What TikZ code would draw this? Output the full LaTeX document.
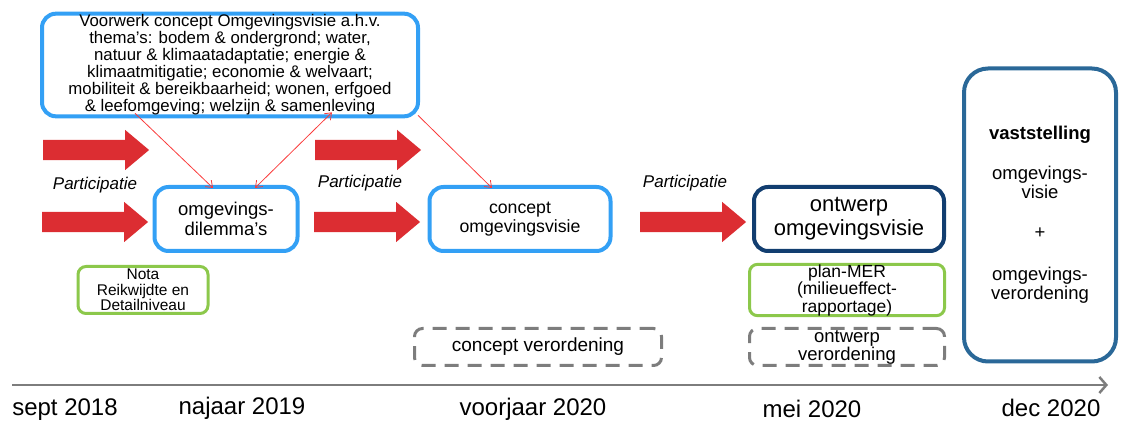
\documentclass[tikz,border=0pt]{standalone}
\usepackage{fontspec}
\setmainfont{Liberation Sans}
\usepackage{xcolor}
\usetikzlibrary{shapes.arrows,arrows.meta}

\definecolor{lichtblauw}{RGB}{51,160,245}
\definecolor{donkerblauw}{RGB}{18,62,112}
\definecolor{staalblauw}{RGB}{42,104,152}
\definecolor{groen}{RGB}{140,200,75}
\definecolor{grijs}{RGB}{125,125,125}
\definecolor{rood}{RGB}{220,45,50}
\definecolor{lijnrood}{RGB}{250,60,60}

\begin{document}
\begin{tikzpicture}[
    x=1pt, y=-1pt,
    box/.style={rectangle, rounded corners=14pt, draw=lichtblauw, line width=4pt, align=center, inner sep=1pt},
    notebox/.style={rectangle, rounded corners=8pt, draw=groen, line width=3pt, align=center, inner sep=0pt},
    dashbox/.style={rectangle, rounded corners=8pt, draw=grijs, line width=3pt, dash pattern=on 14pt off 9pt, align=center, inner sep=0pt},
    bigarrow/.style={single arrow, fill=rood, draw=none, inner sep=10pt, single arrow head extend=10pt, single arrow tip angle=80, minimum height=106pt},
    thin/.style={-{Straight Barb[length=6pt,width=9pt]}, draw=lijnrood, line width=0.8pt},
    label/.style={font=\fontsize{17}{19}\selectfont\itshape}
]
\useasboundingbox (0,0) rectangle (1125,427);

% Blokken
\node[box, minimum width=376pt, minimum height=100pt, font=\fontsize{16.8}{17}\selectfont] (voorwerk) at (230,65)
  {Voorwerk concept Omgevingsvisie a.h.v.\\thema's: bodem \& ondergrond; water,\\natuur \& klimaatadaptatie; energie \&\\klimaatmitigatie; economie \& welvaart;\\mobiliteit \& bereikbaarheid; wonen, erfgoed\\\& leefomgeving; welzijn \& samenleving};
\node[box, minimum width=143pt, minimum height=64pt, font=\fontsize{18.5}{19.5}\selectfont] (dilemma) at (226,219) {omgevings-\\dilemma's};
\node[box, minimum width=181pt, minimum height=64pt, font=\fontsize{17.7}{19}\selectfont] (concept) at (520,219) {concept\\omgevingsvisie};
\node[box, draw=donkerblauw, minimum width=190pt, minimum height=64pt, font=\fontsize{22}{24}\selectfont] (ontwerp) at (849,219) {ontwerp\\omgevingsvisie};
\node[box, draw=staalblauw, rounded corners=24pt, minimum width=152pt, minimum height=293pt, font=\fontsize{18.5}{19}\selectfont] (vast) at (1040,215)
  {\textbf{vaststelling}\\[21pt]omgevings-\\visie\\[21pt]+\\[23pt]omgevings-\\verordening};

% Notities
\node[notebox, minimum width=130pt, minimum height=47pt, font=\fontsize{15.5}{15.5}\selectfont] (nota) at (143,290) {Nota\\Reikwijdte en\\Detailniveau};
\node[notebox, minimum width=195pt, minimum height=48pt, font=\fontsize{17.5}{17.5}\selectfont] (planmer) at (847,290) {plan-MER\\(milieueffect-\\rapportage)};
\node[dashbox, minimum width=247pt, minimum height=37pt, font=\fontsize{19}{20}\selectfont] (conceptverord) at (538,347) {concept verordening};
\node[dashbox, minimum width=195pt, minimum height=37pt, font=\fontsize{18.5}{18}\selectfont] (ontwerpverord) at (847,347) {ontwerp\\verordening};

% Participatie
\node[bigarrow] (pa1) at (90,150) {};
\node[bigarrow] (pa2) at (89,222) {};
\node[bigarrow] (pb1) at (362,150) {};
\node[bigarrow] (pb2) at (361,222) {};
\node[bigarrow] (pc) at (687,222) {};
\node[label] (lbla) at (95,185) {Participatie};
\node[label] (lblb) at (360,183) {Participatie};
\node[label] (lblc) at (685,183) {Participatie};

% Pijlen
\draw[thin] ([xshift=95pt,yshift=5pt]voorwerk.south west) -- ([xshift=-13pt,yshift=-3pt]dilemma.north);
\draw[thin, {Straight Barb[length=6pt,width=9pt]}-{Straight Barb[length=6pt,width=9pt]}] ([xshift=29pt,yshift=-3pt]dilemma.north) -- ([xshift=-88pt,yshift=6pt]voorwerk.south east);
\draw[thin] ([xshift=-2pt,yshift=3pt]voorwerk.south east) -- ([xshift=-28pt,yshift=-3pt]concept.north);

% Tijdlijn
\coordinate (t0) at (12,385);
\coordinate (t1) at (1108,385);
\draw[grijs, line width=2.5pt, -{Straight Barb[length=7pt,width=16pt]}] (t0) -- (t1);
\begin{scope}[every node/.style={font=\fontsize{24}{26}\selectfont}]
\node (sept) at (65,410) {sept 2018};
\node (najaar) at (242,408) {najaar 2019};
\node (voorjaar) at (533,409) {voorjaar 2020};
\node (mei) at (812,409) {mei 2020};
\node (dec) at (1051,408) {dec 2020};
\end{scope}
\end{tikzpicture}
\end{document}
